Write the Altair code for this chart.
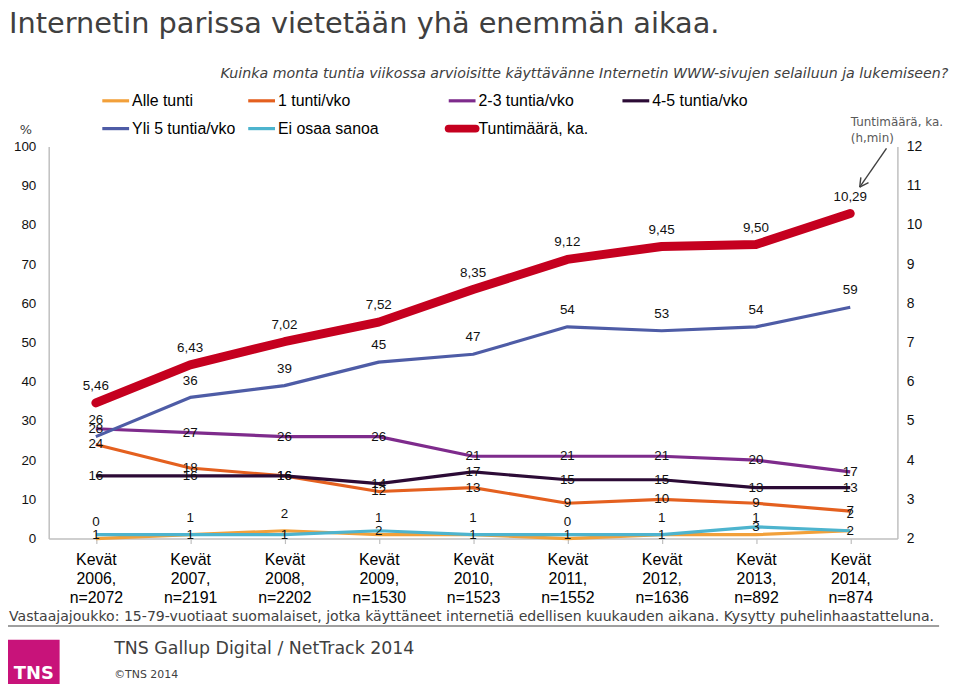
import altair as alt
import pandas as pd
import numpy as np

# ---------------- data ----------------
years = ["2006", "2007", "2008", "2009", "2010", "2011", "2012", "2013", "2014"]
sample_n = ["2072", "2191", "2202", "1530", "1523", "1552", "1636", "892", "874"]
categories = [f"Kevät {y}, n={n}" for y, n in zip(years, sample_n)]

series_names = ["Alle tunti", "1 tunti/vko", "2-3 tuntia/vko", "4-5 tuntia/vko",
                "Yli 5 tuntia/vko", "Ei osaa sanoa"]
alle_tunti = [0, 1, 2, 1, 1, 0, 1, 1, 2]
tunti_1 = [24, 18, 16, 12, 13, 9, 10, 9, 7]
tuntia_2_3 = [28, 27, 26, 26, 21, 21, 21, 20, 17]
tuntia_4_5 = [16, 16, 16, 14, 17, 15, 15, 13, 13]
yli_5 = [26, 36, 39, 45, 47, 54, 53, 54, 59]
ei_osaa = [1, 1, 1, 2, 1, 1, 1, 3, 2]
percent_values = [alle_tunti, tunti_1, tuntia_2_3, tuntia_4_5, yli_5, ei_osaa]

hours_name = "Tuntimäärä, ka."
hours = [5.46, 6.43, 7.02, 7.52, 8.35, 9.12, 9.45, 9.50, 10.29]
hour_labels = [f"{v:.2f}".replace(".", ",") for v in hours]

left_ticks = list(range(0, 101, 10))
right_ticks = list(range(2, 13))

title_text = "Internetin parissa vietetään yhä enemmän aikaa."
subtitle_text = ("Kuinka monta tuntia viikossa arvioisitte käyttävänne Internetin "
                 "WWW-sivujen selailuun ja lukemiseen?")
footnote_text = ("Vastaajajoukko: 15-79-vuotiaat suomalaiset, jotka käyttäneet internetiä "
                 "edellisen kuukauden aikana. Kysytty puhelinhaastatteluna.")
source_text = "TNS Gallup Digital / NetTrack 2014"
copyright_text = "©TNS 2014"
logo_text = "TNS"
axis_note = ["Tuntimäärä, ka.", "(h,min)"]
left_unit = "%"

# ---------------- styles / layout ----------------
series_colors = ["#F2A03A", "#E4601F", "#7E2B8C", "#2C0B36", "#4E5CA6", "#4DB4CE"]
hours_color = "#C5001F"
label_dy = [-17, 0, 0, 0, -17, 0]
W, H = 855, 395
OX, OY = 49, 145          # page position of plot origin
AXIS_GRAY = "#BFBFBF"
TXT = "#404040"
LABEL_FONT = "Liberation Sans"

def px(x):
    return x - OX

def py(y):
    return y - OY

one = pd.DataFrame({"k": [0]})

def note(text, x, y, size, color=TXT, font="DejaVu Sans", align="left",
         baseline="alphabetic", **kw):
    return alt.Chart(one).mark_text(
        text=text, font=font, fontSize=size, color=color, align=align,
        baseline=baseline, **kw
    ).encode(x=alt.value(px(x)), y=alt.value(py(y)))

def seg(x0, y0, x1, y1, color, width, cap="butt"):
    return alt.Chart(one).mark_rule(color=color, strokeWidth=width, strokeCap=cap).encode(
        x=alt.value(px(x0)), y=alt.value(py(y0)),
        x2=alt.value(px(x1)), y2=alt.value(py(y1)))

# ---------------- encodings ----------------
x_enc = alt.X(
    "cat:N", sort=categories,
    scale=alt.Scale(type="point", domain=categories, padding=0.5),
    axis=alt.Axis(title=None, labelExpr="split(datum.label, ' ')", labelAngle=0,
                  labelFont=LABEL_FONT, labelFontSize=16, labelColor="#000",
                  labelLineHeight=19, labelPadding=8, labelBaseline="top",
                  labelOverlap=False, labelLimit=300,
                  domainColor=AXIS_GRAY, domainWidth=1.5,
                  tickColor=AXIS_GRAY, tickSize=5, tickWidth=1.2, grid=False))

y_left = alt.Y(
    "value:Q", scale=alt.Scale(domain=[0, 100], nice=False, zero=False),
    axis=alt.Axis(title=None, values=left_ticks, format="d", ticks=False, tickSize=0,
                  labelFont=LABEL_FONT, labelFontSize=13.5, labelColor="#111",
                  labelPadding=13, domainColor=AXIS_GRAY, domainWidth=1.5, grid=False))

y_right = alt.Y(
    "value:Q", scale=alt.Scale(domain=[2, 12], nice=False, zero=False),
    axis=alt.Axis(title=None, orient="right", values=right_ticks, format="d",
                  ticks=False, tickSize=0,
                  labelFont=LABEL_FONT, labelFontSize=14, labelColor="#111",
                  labelPadding=9, domainColor=AXIS_GRAY, domainWidth=1.5, grid=False))

# ---------------- percent series ----------------
line_layers, label_layers = [], []
for name, vals, color, dy in zip(series_names, percent_values, series_colors, label_dy):
    df = pd.DataFrame({"cat": categories, "value": vals,
                       "label": [str(v) for v in vals], "series": name})
    line_layers.append(
        alt.Chart(df).mark_line(color=color, strokeWidth=3.2, strokeJoin="round")
        .encode(x=x_enc, y=y_left))
    label_layers.append(
        alt.Chart(df).mark_text(font=LABEL_FONT, fontSize=13.5, color="#111", dy=dy)
        .encode(x=x_enc, y=y_left, text="label:N"))

left_group = alt.layer(*line_layers, *label_layers)

hours_df = pd.DataFrame({"cat": categories, "value": hours, "label": hour_labels})
right_group = alt.layer(
    alt.Chart(hours_df).mark_line(color=hours_color, strokeWidth=9, strokeCap="round",
                                  strokeJoin="round").encode(x=x_enc, y=y_right),
    alt.Chart(hours_df).mark_text(font=LABEL_FONT, fontSize=13.5, color="#111", dy=-17)
    .encode(x=x_enc, y=y_right, text="label:N"),
)

# ---------------- annotations ----------------
ann = []
ann.append(note(title_text, 9, 31, 29))
ann.append(note(subtitle_text, 222, 76, 14.3, font="DejaVu Sans", fontStyle="italic"))

# legend (built from series names/colours)
leg_names = series_names + [hours_name]
leg_colors = series_colors + [hours_color]
leg_widths = [3.2] * len(series_names) + [8]
col_x = [103, 250, 452, 627]
row_y = [99, 127]
for i, (nm, cl, lw) in enumerate(zip(leg_names, leg_colors, leg_widths)):
    cx = col_x[i % 4]
    ry = row_y[i // 4]
    ann.append(seg(cx, ry, cx + 27, ry, cl, lw, cap="round" if lw > 4 else "butt"))
    ann.append(note(nm, cx + 30, ry, 16, color="#000", font=LABEL_FONT, baseline="middle"))

ann.append(note(left_unit, 26, 128, 13, font="DejaVu Sans", align="center", baseline="middle"))
ann.append(note(axis_note[0], 857, 120, 12, color="#595959", baseline="middle"))
ann.append(note(axis_note[1], 857, 136, 12, color="#595959", baseline="middle"))

# arrow
tip = np.array([866.0, 186.0])
start = np.array([893.0, 147.0])
ann.append(seg(start[0], start[1], tip[0], tip[1], "#404040", 1.4))
d = (start - tip) / np.linalg.norm(start - tip)
for ang in (np.radians(28), -np.radians(28)):
    r = np.array([[np.cos(ang), -np.sin(ang)], [np.sin(ang), np.cos(ang)]]) @ d * 10
    ann.append(seg(tip[0], tip[1], tip[0] + r[0], tip[1] + r[1], "#404040", 1.4))

# footnote and footer
ann.append(note(footnote_text, 9, 623, 14.2))
ann.append(seg(8, 628, 946, 628, "#7F7F7F", 1.5))
ann.append(alt.Chart(one).mark_rect(color="#C8137A").encode(
    x=alt.value(px(8)), x2=alt.value(px(60)), y=alt.value(py(642)), y2=alt.value(py(700))))
ann.append(note(logo_text, 34, 681, 18, color="#FFFFFF", font="DejaVu Sans",
                align="center", fontWeight="bold"))
ann.append(note(source_text, 115, 656, 17.5))
ann.append(note(copyright_text, 115, 680, 11))

chart = alt.layer(left_group, right_group, *ann).resolve_scale(y="independent").properties(
    width=W, height=H,
    padding={"left": OX - 8, "top": OY - 8, "right": 55, "bottom": 144},
    autosize=alt.AutoSizeParams(type="none"),
    background="white",
).configure_view(stroke=None)

chart.save("out.html", embed_options={"renderer": "svg", "actions": False})
